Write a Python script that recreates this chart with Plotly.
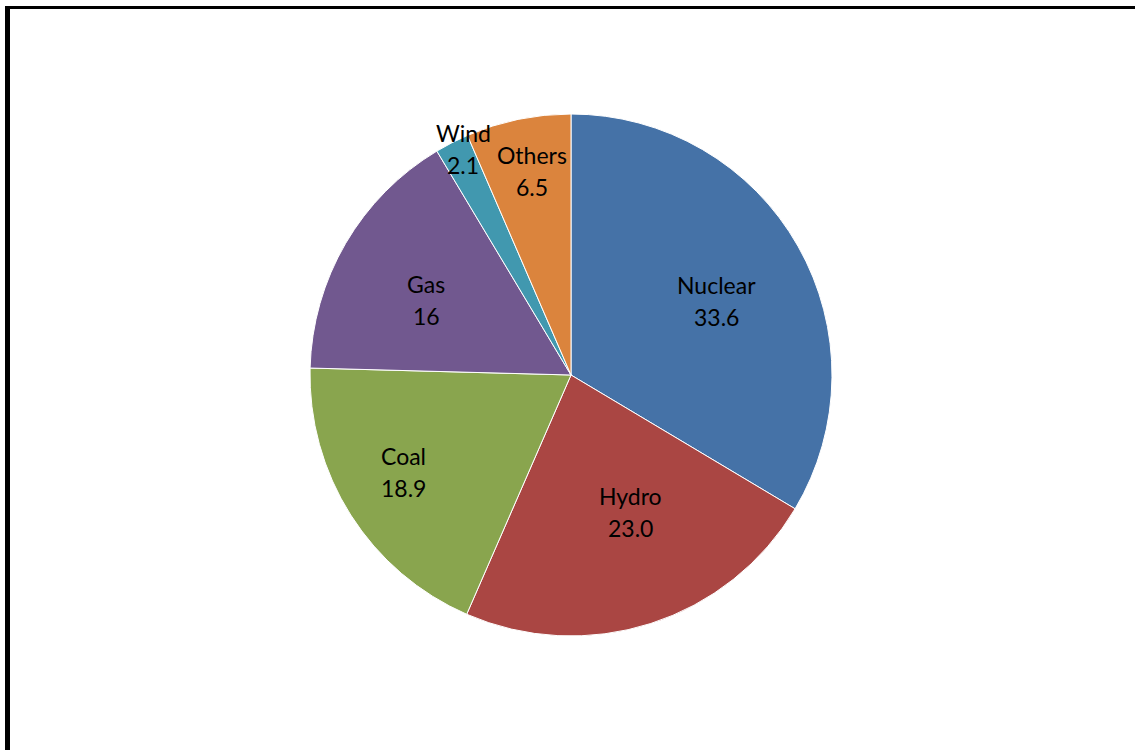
import math
import plotly.graph_objects as go

# Electricity generation mix, share by source (%)
sources = ["Nuclear", "Hydro", "Coal", "Gas", "Wind", "Others"]
shares = [33.6, 23.0, 18.9, 16, 2.1, 6.5]
share_labels = ["33.6", "23.0", "18.9", "16", "2.1", "6.5"]
colors = ["#4572A7", "#AA4643", "#89A54E", "#71588F", "#4198AF", "#DB843D"]

# Label placement: distance from centre (fraction of radius) and angular nudge (deg)
label_radius = [0.625, 0.571, 0.742, 0.625, 0.958, 0.797]
label_nudge = [2.6, -5.8, 2.3, -3.0, 1.6, 1.0]

W, H = 1135, 750
cx, cy, r = 571, 375, 261
LINE_GAP = 32  # px between the name line and the value line

fig = go.Figure(
    go.Pie(
        labels=sources,
        values=shares,
        textinfo="none",
        marker=dict(colors=colors, line=dict(color="white", width=1)),
        sort=False,
        direction="clockwise",
        rotation=0,
        showlegend=False,
        hoverinfo="label+value",
        domain=dict(
            x=[(cx - r) / W, (cx + r) / W],
            y=[(H - cy - r) / H, (H - cy + r) / H],
        ),
    )
)

# Two-line labels (name / value) placed at each slice's mid-angle
total = sum(shares)
cum = 0.0
font = dict(family="Lato, sans-serif", size=23, color="black")
for name, val, vlab, rf, nudge in zip(sources, shares, share_labels, label_radius, label_nudge):
    mid = (cum + val / 2) / total * 360 + nudge
    cum += val
    px = cx + rf * r * math.sin(math.radians(mid))
    py = cy - rf * r * math.cos(math.radians(mid))
    for txt, dy in ((name, -LINE_GAP / 2), (vlab, LINE_GAP / 2)):
        fig.add_annotation(
            x=px / W, y=1 - (py + dy) / H, xref="paper", yref="paper",
            text=txt, showarrow=False, font=font,
            xanchor="center", yanchor="middle",
        )

# Frame lines along the left and top edges
fig.add_shape(type="rect", xref="paper", yref="paper",
              x0=5 / W, x1=10 / W, y0=0, y1=1 - 6 / H,
              fillcolor="black", line_width=0, layer="above")
fig.add_shape(type="rect", xref="paper", yref="paper",
              x0=5 / W, x1=1, y0=1 - 9 / H, y1=1 - 6 / H,
              fillcolor="black", line_width=0, layer="above")

fig.update_layout(
    width=W,
    height=H,
    margin=dict(l=0, r=0, t=0, b=0),
    paper_bgcolor="white",
    plot_bgcolor="white",
)

fig.write_html("out.html")
